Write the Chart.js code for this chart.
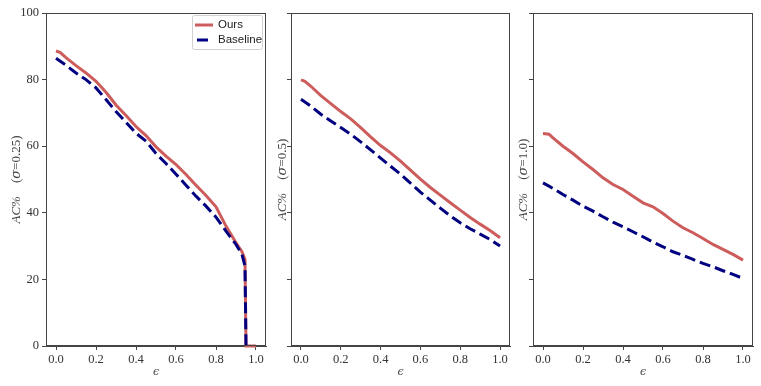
<!DOCTYPE html>
<html>
<head>
<meta charset="utf-8">
<script src="https://cdn.jsdelivr.net/npm/chart.js@4.4.0/dist/chart.umd.min.js"></script>
<style>
body { margin: 0; background: #fff; width: 761px; height: 386px; overflow: hidden; position: relative; }
canvas { position: absolute; top: 0; }
</style>
</head>
<body>
<canvas id="c1" width="270" height="386" style="left:0px"></canvas>
<canvas id="c2" width="242" height="386" style="left:270px"></canvas>
<canvas id="c3" width="249" height="386" style="left:512px"></canvas>
<script>
// values
var xTicks = [0, 0.2, 0.4, 0.6, 0.8, 1.0];
var yTicks = [0, 20, 40, 60, 80, 100];

// sigma = 0.25
var eps1 = [0, 0.02, 0.05, 0.1, 0.15, 0.2, 0.25, 0.3, 0.35, 0.4, 0.45, 0.5, 0.55, 0.6, 0.65, 0.7, 0.75, 0.8, 0.85, 0.9, 0.93, 0.945, 0.95, 1.0];
var ours1 = [88.6, 88.2, 86.6, 84.2, 82, 79.5, 76.2, 72.4, 69.2, 65.9, 63.2, 59.8, 57, 54.5, 51.5, 48.3, 45.2, 41.8, 36, 31, 28.3, 26, 0, 0];
var epsB1 = [0, 0.05, 0.1, 0.15, 0.2, 0.25, 0.3, 0.35, 0.4, 0.45, 0.5, 0.55, 0.6, 0.65, 0.7, 0.75, 0.8, 0.85, 0.9, 0.93, 0.945, 0.95];
var base1 = [86.4, 84.3, 82, 80, 77.5, 74, 70.4, 67.2, 63.9, 61.5, 57.8, 54.8, 51.6, 48.3, 45, 42, 38.7, 34.5, 30.5, 27.5, 24, 0];

// sigma = 0.5
var eps2 = [0, 0.02, 0.05, 0.1, 0.15, 0.2, 0.25, 0.3, 0.35, 0.4, 0.45, 0.5, 0.55, 0.6, 0.65, 0.7, 0.75, 0.8, 0.85, 0.9, 0.95, 1.0];
var ours2 = [79.9, 79.5, 78, 75.2, 72.8, 70.4, 68.2, 65.6, 62.8, 60.2, 58, 55.5, 52.8, 50.1, 47.6, 45.3, 43, 40.8, 38.6, 36.6, 34.7, 32.5];
var base2 = [74.1, 73.3, 72, 69.6, 67.6, 65.6, 63.6, 61.3, 58.9, 56.4, 54, 51.6, 48.9, 46.2, 43.8, 41.4, 39.1, 37, 35.2, 33.6, 32, 30];

// sigma = 1.0
var eps3 = [0, 0.03, 0.05, 0.1, 0.15, 0.2, 0.25, 0.3, 0.35, 0.4, 0.45, 0.5, 0.55, 0.6, 0.65, 0.7, 0.75, 0.8, 0.85, 0.9, 0.95, 1.0];
var ours3 = [63.8, 63.6, 62.5, 60, 57.8, 55.3, 53, 50.5, 48.5, 47, 45, 43, 41.8, 39.8, 37.5, 35.5, 34, 32.3, 30.5, 29, 27.5, 25.8];
var base3 = [49, 48, 47.3, 45.5, 43.8, 42, 40.5, 38.8, 37.2, 35.8, 34.3, 32.8, 31.2, 29.8, 28.3, 27.2, 26, 24.8, 23.8, 22.6, 21.5, 20.3];

var RED = "#cd5c5c";
var NAVY = "#000080";
var DASH = [11, 5];

function pts(xs, ys) {
    var out = [];
    for (var i = 0; i < ys.length; i++) out.push({x: xs[i], y: ys[i]});
    return out;
}

var framePlugin = {
    id: "frame",
    afterDatasetsDraw: function (chart) {
        var a = chart.chartArea, c = chart.ctx;
        c.save();
        c.strokeStyle = "#444";
        c.lineWidth = 1;
        c.strokeRect(Math.round(a.left) + 0.5, Math.round(a.top) + 0.5, Math.round(a.right - a.left) - 1, Math.round(a.bottom - a.top) - 1);
        c.restore();
    }
};

var labelPlugin = {
    id: "labels",
    afterDraw: function (chart, args, o) {
        var a = chart.chartArea, c = chart.ctx;
        c.save();
        c.fillStyle = "#444";
        // y label, rotated, mixed italic / upright
        var parts = [
            ["AC%", "italic 13px 'Liberation Serif'"],
            ["    (", "13px 'Liberation Serif'"],
            ["\u03c3", "italic 13px 'DejaVu Serif'"],
            ["=" + o.sigma + ")", "13px 'Liberation Serif'"]
        ];
        var total = 0;
        parts.forEach(function (p) { c.font = p[1]; total += c.measureText(p[0]).width; });
        c.translate(o.labelX, (a.top + a.bottom) / 2);
        c.rotate(-Math.PI / 2);
        c.textBaseline = "middle";
        c.textAlign = "left";
        var x = -total / 2;
        parts.forEach(function (p) { c.font = p[1]; c.fillText(p[0], x, 0); x += c.measureText(p[0]).width; });
        c.restore();

        c.save();
        c.fillStyle = "#444";
        c.font = "italic 11px 'DejaVu Serif'";
        c.textAlign = "center";
        c.textBaseline = "middle";
        c.fillText("\u03f5", (a.left + a.right) / 2, 372);
        c.restore();

        if (o.legend) {
            c.save();
            var bx = 192, by = 15, bw = 70, bh = 34;
            c.fillStyle = "rgba(255,255,255,0.8)";
            c.strokeStyle = "#d0d0d0";
            c.lineWidth = 1;
            c.beginPath();
            c.roundRect(bx + 0.5, by + 0.5, bw, bh, 2);
            c.fill();
            c.stroke();
            var rows = chart.data.datasets;
            rows.forEach(function (ds, i) {
                var y = 25 + i * 15;
                c.strokeStyle = ds.borderColor;
                c.lineWidth = 3;
                c.setLineDash(ds.borderDash || []);
                c.beginPath();
                if (ds.borderDash) { c.moveTo(197, y); c.lineTo(208, y); }
                else { c.moveTo(195, y); c.lineTo(213, y); }
                c.stroke();
                c.setLineDash([]);
                c.fillStyle = "#222";
                c.font = "11.5px 'Liberation Sans'";
                c.textBaseline = "middle";
                c.fillText(ds.label, 218, y);
            });
            c.restore();
        }
    }
};

function makePanel(id, epsO, ours, epsB, base, cfg) {
    return new Chart(document.getElementById(id), {
        type: "line",
        data: {
            datasets: [
                { label: "Ours", data: pts(epsO, ours), borderColor: RED, borderWidth: 3, pointRadius: 0, order: 2, tension: 0, clip: 3 },
                { label: "Baseline", data: pts(epsB, base), borderColor: NAVY, borderWidth: 3, borderDash: DASH, pointRadius: 0, order: 1, tension: 0, clip: 3 }
            ]
        },
        options: {
            responsive: false,
            animation: false,
            layout: { padding: { left: 0, top: 13, right: cfg.padR, bottom: 0 } },
            plugins: {
                legend: { display: false },
                tooltip: { enabled: false },
                labels: { sigma: cfg.sigma, labelX: cfg.labelX, legend: cfg.legend }
            },
            scales: {
                x: {
                    type: "linear",
                    min: -0.05,
                    max: 1.05,
                    afterFit: function (s) { s.height = 40; },
                    afterBuildTicks: function (s) { s.ticks = xTicks.map(function (v) { return {value: v}; }); },
                    ticks: {
                        callback: function (v) { return v.toFixed(1); },
                        font: { family: "Liberation Serif", size: 12.5 },
                        color: "#333",
                        padding: 2,
                        maxRotation: 0
                    },
                    grid: { drawOnChartArea: false, drawTicks: true, tickLength: 4, color: "#444" },
                    border: { color: "#444" }
                },
                y: {
                    min: 0,
                    max: 100,
                    afterFit: function (s) { s.width = cfg.yw; },
                    afterBuildTicks: function (s) { s.ticks = yTicks.map(function (v) { return {value: v}; }); },
                    ticks: {
                        display: cfg.showY,
                        font: { family: "Liberation Serif", size: 12.5 },
                        color: "#333",
                        padding: 3
                    },
                    grid: { drawOnChartArea: false, drawTicks: true, tickLength: 4, color: "#444" },
                    border: { color: "#444" }
                }
            }
        },
        plugins: [framePlugin, labelPlugin]
    });
}

makePanel("c1", eps1, ours1, epsB1, base1, { yw: 46, padR: 4, showY: true, labelX: 17, sigma: "0.25", legend: true });
makePanel("c2", eps2, ours2, eps2, base2, { yw: 21, padR: 2, showY: false, labelX: 13, sigma: "0.5", legend: false });
makePanel("c3", eps3, ours3, eps3, base3, { yw: 21, padR: 8, showY: false, labelX: 12, sigma: "1.0", legend: false });
</script>
</body>
</html>
